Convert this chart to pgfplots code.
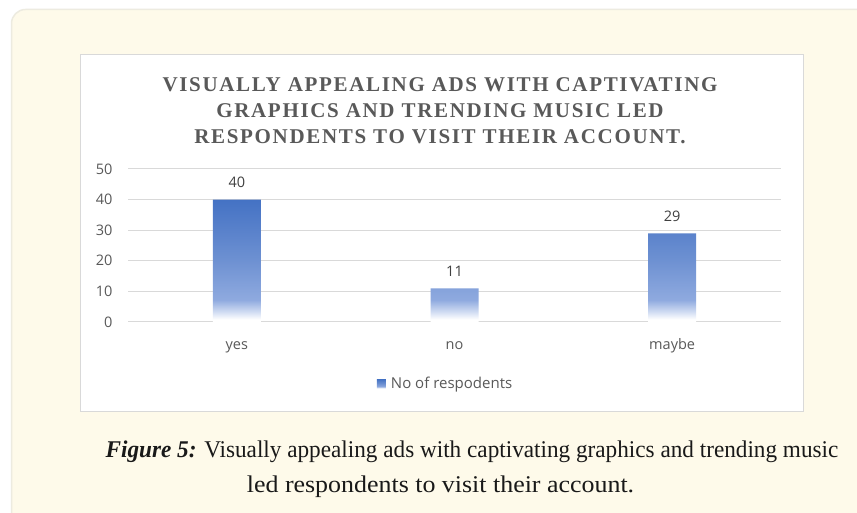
\documentclass[border=0pt]{standalone}
\usepackage{fontspec}
\usepackage{graphicx}
\setmainfont{Liberation Serif}
\newfontfamily\titlefont[LetterSpace=8]{Liberation Serif}
\newfontfamily\sansf{Open Sans}
\usepackage{pgfplots}
\pgfplotsset{compat=1.18}
\definecolor{barblue}{HTML}{4472C4}
\definecolor{bmid}{HTML}{6E91D2}
\definecolor{blow}{HTML}{8FAADF}
\definecolor{bvlow}{HTML}{D3DEF3}
\definecolor{cream}{HTML}{FEFAEA}
\definecolor{creamborder}{HTML}{EDEBE0}
\definecolor{boxgray}{HTML}{D9D9D9}
\definecolor{gridgray}{HTML}{D9D9D9}
\definecolor{titlegray}{HTML}{595959}
\definecolor{labgray}{HTML}{595959}
\definecolor{datagray}{HTML}{404040}
\pgfdeclareverticalshading{barshade}{100bp}{color(0bp)=(white); color(25bp)=(white); color(26bp)=(white); color(29bp)=(bvlow); color(34bp)=(blow); color(50bp)=(bmid); color(75bp)=(barblue); color(100bp)=(barblue)}
\begin{document}
\begin{tikzpicture}[x=1pt,y=1pt]
\useasboundingbox (0,0) rectangle (857,513);
\begin{scope}
\clip (0,0) rectangle (857,513);
\fill[white] (0,0) rectangle (857,513);
\draw[fill=cream, draw=creamborder, line width=1.5pt, rounded corners=14pt] (11.5,503.5) rectangle (900,-40);
\end{scope}
\draw[fill=white, draw=boxgray, line width=1pt] (80,101) rectangle (803,458);
\begin{scope}[every node/.style={anchor=base, text=titlegray, font=\titlefont\bfseries\fontsize{21}{25}\selectfont}]
\node at (440,421.5) {VISUALLY APPEALING ADS WITH CAPTIVATING};
\node at (440,395.3) {GRAPHICS AND TRENDING MUSIC LED};
\node at (440,369.3) {RESPONDENTS TO VISIT THEIR ACCOUNT.};
\end{scope}
\begin{axis}[
  at={(128pt,191pt)}, anchor=south west,
  scale only axis, width=653pt, height=153pt,
  xmin=-0.5, xmax=2.5, ymin=0, ymax=50,
  xtick={0,1,2}, xticklabels={yes,no,maybe},
  ytick={0,10,20,30,40,50},
  /pgf/number format/assume math mode=true,
  axis line style={draw=none},
  tick style={draw=none},
  ymajorgrids, grid style={gridgray, line width=1pt},
  ticklabel style={font=\sansf\fontsize{14.5}{16}\selectfont, text=labgray},
  yticklabel style={anchor=east, xshift=-12pt},
  xticklabel style={anchor=base, yshift=-28pt},
  legend style={draw=none, fill=none, at={(0.381,-0.404)}, anchor=west,
    font=\sansf\fontsize{15}{16}\selectfont, text=labgray,
    inner sep=0pt, column sep=4pt, nodes={inner sep=1pt}},
  legend image code/.code={\fill[barblue] (0pt,-4.5pt) rectangle (9pt,4.5pt);},
]
\addplot[ybar, bar width=48pt, draw=none, shade, shading=barshade,
  nodes near coords,
  every node near coord/.append style={anchor=base, yshift=12pt, text=datagray, font=\sansf\fontsize{14.5}{16}\selectfont}]
  coordinates {(0,40) (1,11) (2,29)};
\addlegendentry{No of respodents}
\end{axis}
\node[anchor=base, font=\fontsize{24}{28}\selectfont, text=black!90] at (472,55) {\scalebox{0.967}[1]{\textbf{\textit{Figure 5:}} Visually appealing ads with captivating graphics and trending music}};
\node[anchor=base, font=\fontsize{24}{28}\selectfont, text=black!90] at (440.5,20) {\scalebox{1.08}[1]{led respondents to visit their account.}};
\end{tikzpicture}
\end{document}
